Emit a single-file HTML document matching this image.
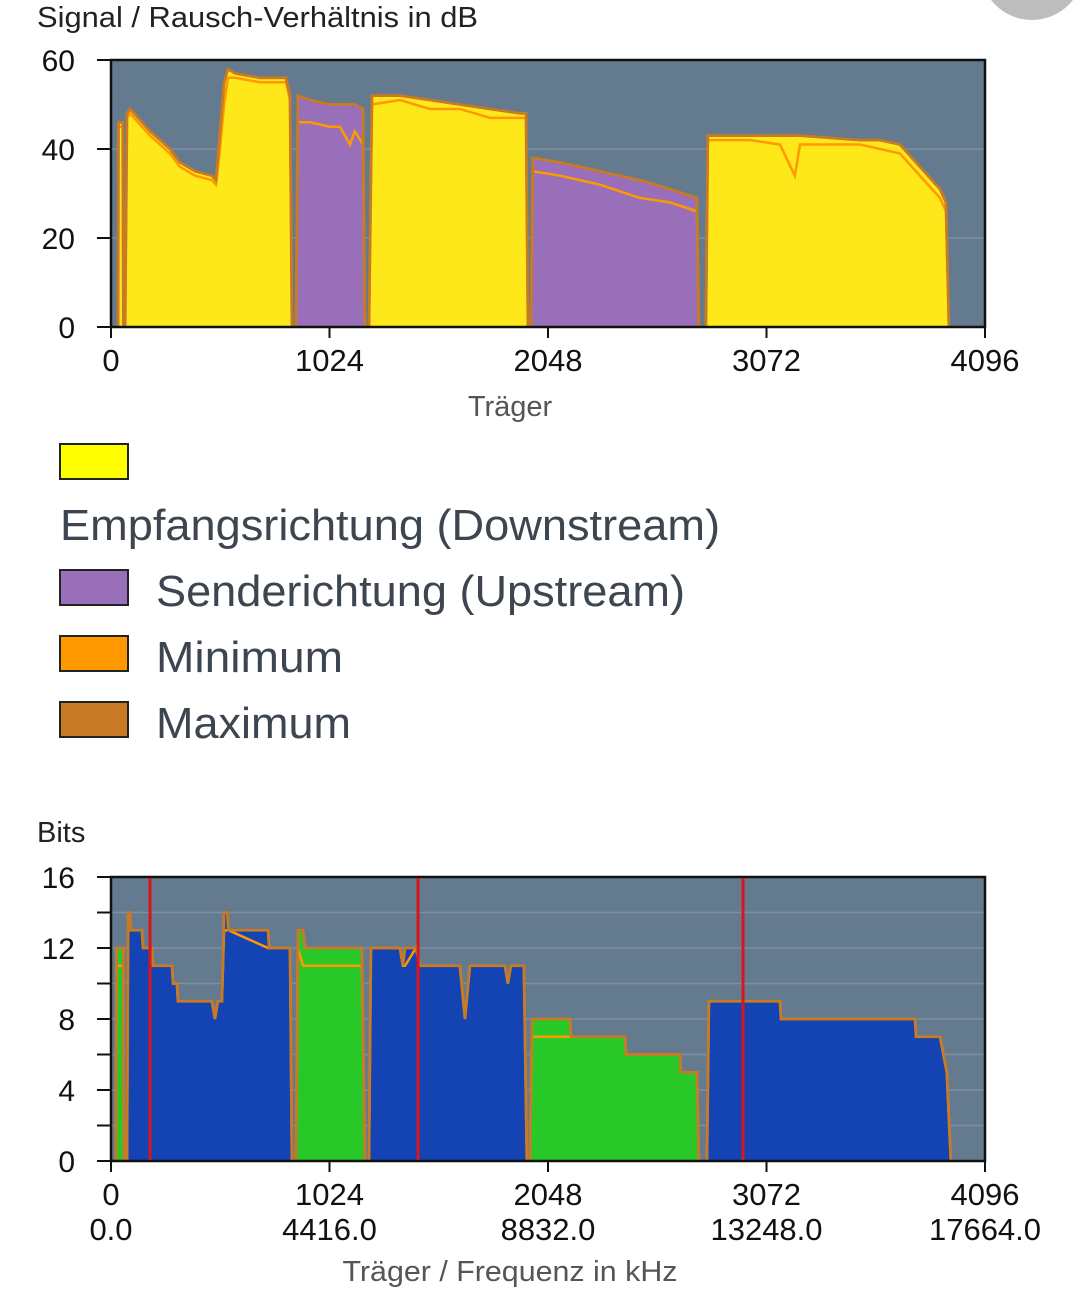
<!DOCTYPE html>
<html><head><meta charset="utf-8">
<style>
html,body{margin:0;padding:0;background:#fff;width:1080px;height:1294px;overflow:hidden;font-family:"Liberation Sans",sans-serif;}
svg{position:absolute;left:0;top:0}
</style></head>
<body>
<svg id="s" width="1080" height="1294" xmlns="http://www.w3.org/2000/svg">
<circle cx="1032" cy="-32" r="52" fill="#bdbdbd"/>
<text x="37" y="27" font-size="29" fill="#222" textLength="441" lengthAdjust="spacingAndGlyphs">Signal / Rausch-Verhältnis in dB</text>
<text x="510" y="416" font-size="29" fill="#555" text-anchor="middle">Träger</text>
<g>
<rect x="60" y="444" width="68" height="35" fill="#ffff00" stroke="#222" stroke-width="2"/>
<text x="60" y="540" font-size="44" fill="#3d4650" textLength="660" lengthAdjust="spacingAndGlyphs">Empfangsrichtung (Downstream)</text>
<rect x="60" y="570" width="68" height="35" fill="#9a6fba" stroke="#222" stroke-width="2"/>
<text x="156" y="606" font-size="44" fill="#3d4650" textLength="529" lengthAdjust="spacingAndGlyphs">Senderichtung (Upstream)</text>
<rect x="60" y="636" width="68" height="35" fill="#ff9900" stroke="#222" stroke-width="2"/>
<text x="156" y="672" font-size="44" fill="#3d4650" textLength="187" lengthAdjust="spacingAndGlyphs">Minimum</text>
<rect x="60" y="702" width="68" height="35" fill="#c87a25" stroke="#222" stroke-width="2"/>
<text x="156" y="738" font-size="44" fill="#3d4650" textLength="195" lengthAdjust="spacingAndGlyphs">Maximum</text>
</g>
<text x="37" y="842" font-size="29" fill="#222">Bits</text>
<text x="510" y="1281" font-size="29" fill="#555" text-anchor="middle" textLength="335" lengthAdjust="spacingAndGlyphs">Träger / Frequenz in kHz</text>
</svg>
<script>
// ---- SNR chart data ----
const snrSegDir = ['D','D','U','D','U','D'];
const snrCarriers = [
 [33,35,55,58],
 [66,75,89,183,276,323,394,473,492,511,530,548,581,698,820,839,848],
 [867,876,933,1026,1073,1120,1143,1181,1190],
 [1209,1223,1354,1495,1635,1776,1917,1945,1954],
 [1968,1977,2104,2291,2479,2619,2746,2755],
 [2788,2797,2994,3135,3205,3229,3510,3604,3697,3791,3885,3913,3927]
];
const snrMax = [
 [0,46,46,0],
 [0,48,49,44,40,37,35,34,33,44,55,58,57,56,56,52,0],
 [0,52,51,50,50,50,50,49,0],
 [0,52,52,51,50,49,48,48,0],
 [0,38,37,35,33,31,29,0],
 [0,43,43,43,43,43,42,42,41,36,31,28,0]
];
const snrMin = [
 [0,45,45,0],
 [0,47,48,43,39,36,34,33,32,40,50,56,56,55,55,51,0],
 [0,46,46,45,45,41,44,41,0],
 [0,50,51,49,49,47,47,47,0],
 [0,35,34,32,29,28,26,0],
 [0,42,42,41,34,41,41,40,39,34,29,26,0]
];
const snrYTicks = [0,20,40,60];
const xTicks = [0,1024,2048,3072,4096];
const freqTicks = ['0.0','4416.0','8832.0','13248.0','17664.0'];
// ---- Bits chart data ----
const bitSegDir = ['U','D','U','D','U','D'];
const bitCarriers = [
 [23,26,58,61],
 [75,80,89,94,145,150,192,197,286,291,309,314,473,487,501,520,530,545,550,736,741,839,848],
 [867,876,900,909,1176,1190],
 [1209,1218,1354,1368,1378,1429,1447,1635,1659,1682,1846,1860,1874,1935,1949],
 [1963,1973,2151,2156,2409,2414,2666,2671,2746,2755],
 [2793,2802,3135,3140,3768,3773,3885,3917,3936]
];
const bitMax = [
 [0,12,12,0],
 [0,14,14,13,13,12,12,11,11,10,10,9,9,8,9,9,14,14,13,13,12,12,0],
 [0,13,13,12,12,0],
 [0,12,12,11,12,12,11,11,8,11,11,10,11,11,0],
 [0,8,8,7,7,6,6,5,5,0],
 [0,9,9,8,8,7,7,5,0]
];
const bitMin = [
 [0,11,11,0],
 [0,13,13,13,13,12,12,11,11,10,10,9,9,8,9,9,13,13,13,12,12,12,0],
 [0,12,11,11,11,0],
 [0,12,12,11,11,12,11,11,8,11,11,10,11,11,0],
 [0,7,7,7,7,6,6,5,5,0],
 [0,9,9,8,8,7,7,5,0]
];
const bitYTicks = [0,4,8,12,16];
const pilotCarriers = [183,1439,2962];

const NS='http://www.w3.org/2000/svg';
const svg=document.getElementById('s');
function el(tag,attrs,parent){const e=document.createElementNS(NS,tag);for(const k in attrs)e.setAttribute(k,attrs[k]);(parent||svg).appendChild(e);return e;}
const X0=111,X1=985;
const xs=c=>X0+c/4096*(X1-X0);

function chart(name,top,bot,ymax,yTicks,minor,carriers,maxv,minv,dirs,colD,colU){
  const ys=v=>bot-v/ymax*(bot-top);
  const g=el('g',{});
  
  
  const bg=el('rect',{x:X0,y:top,width:X1-X0,height:bot-top,fill:'#647a8e'},g);
  
  
  for(let v=minor;v<ymax;v+=minor){
    const gl=el('line',{x1:X0,x2:X1,y1:ys(v),y2:ys(v),stroke:'#7d90a2','stroke-width':1.5},g);
    
    
  }
  carriers.forEach((cs,i)=>{
    const pts=cs.map((c,j)=>xs(c)+','+ys(maxv[i][j])).join(' ');
    const a=el('polygon',{points:pts,fill:dirs[i]==='D'?colD:colU},g);
    
    
    const mn=el('polyline',{points:cs.map((c,j)=>xs(c)+','+ys(minv[i][j])).join(' '),fill:'none',stroke:'#ff9900','stroke-width':2.5},g);
    
    
    const mx=el('polyline',{points:pts,fill:'none',stroke:'#c87a25','stroke-width':2.8},g);
    
    
  });
  const fr=el('rect',{x:X0,y:top,width:X1-X0,height:bot-top,fill:'none',stroke:'#111','stroke-width':2.5},g);
  
  
  for(let v=0;v<=ymax;v+=minor){
    el('line',{x1:97,x2:X0,y1:ys(v),y2:ys(v),stroke:'#111','stroke-width':2},g);
  }
  yTicks.forEach(v=>{
    const t=el('text',{x:75,y:ys(v)+11,'font-size':30,fill:'#111','text-anchor':'end'},g);
    t.textContent=v;
    
    
  });
  xTicks.forEach(c=>{
    el('line',{x1:xs(c),x2:xs(c),y1:bot,y2:bot+11,stroke:'#111','stroke-width':2},g);
    const t=el('text',{x:xs(c),y:bot+44,'font-size':31,fill:'#111','text-anchor':'middle'},g);
    t.textContent=c;
    
    
  });
  return {g,ys};
}
chart('snr-chart',60,327,60,snrYTicks,20,snrCarriers,snrMax,snrMin,snrSegDir,'#ffe81a','#9a6fba');
const b=chart('bits-chart',877,1161,16,bitYTicks,2,bitCarriers,bitMax,bitMin,bitSegDir,'#1443b4','#28c828');
pilotCarriers.forEach(c=>{
  const l=el('line',{x1:xs(c),x2:xs(c),y1:878,y2:1160,stroke:'#d8141e','stroke-width':3},b.g);
  
  
});
freqTicks.forEach((f,i)=>{
  const t=el('text',{x:xs(xTicks[i]),y:1240,'font-size':31,fill:'#111','text-anchor':'middle'});
  t.textContent=f;
  
  
});
</script>
</body></html>
